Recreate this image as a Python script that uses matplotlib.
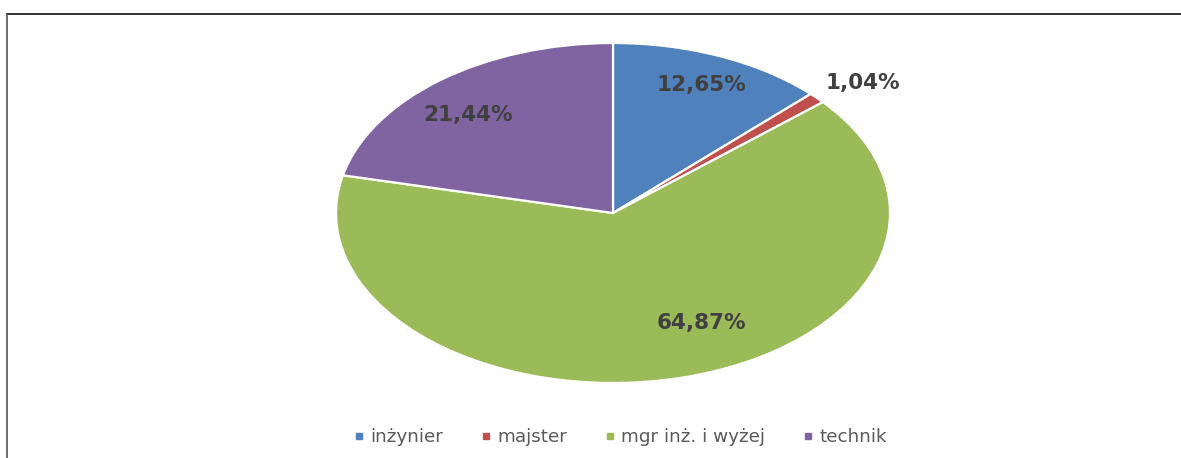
import matplotlib.pyplot as plt
from matplotlib.lines import Line2D

W, H = 1181, 458

categories = ["inżynier", "majster", "mgr inż. i wyżej", "technik"]
shares = [12.65, 1.04, 64.87, 21.44]
colors = ["#4F81BD", "#C0504D", "#9BBB59", "#8064A2"]

# label centres in pie data units (radius 1, axes stretched into an ellipse)
LABEL_POS = [(0.318, 0.753), (0.903, 0.765), (0.318, -0.647), (-0.523, 0.576)]

fig = plt.figure(figsize=(W / 100, H / 100), dpi=100)
fig.patch.set_facecolor("white")

# pie box in pixels: left 336, right 890, top 43, bottom 383
ax = fig.add_axes([336 / W, (H - 383) / H, 554 / W, 340 / H])
wedges, _ = ax.pie(
    shares,
    colors=colors,
    startangle=90,
    counterclock=False,
    radius=1.0,
    wedgeprops=dict(edgecolor="white", linewidth=1.6),
)
ax.set_aspect("auto")
ax.set_xlim(-1, 1)
ax.set_ylim(-1, 1)
ax.axis("off")

for v, (x, y) in zip(shares, LABEL_POS):
    ax.text(x, y, f"{v:.2f}%".replace(".", ","), ha="center", va="center",
            fontsize=15.5, fontweight="bold", color="#404040",
            family="DejaVu Sans")

handles = [Line2D([], [], marker="s", linestyle="none", markersize=5,
                  markerfacecolor=c, markeredgecolor=c) for c in colors]
fig.legend(handles, categories, loc="center", bbox_to_anchor=(621 / W, 1 - 437 / H),
           ncol=4, frameon=False, handlelength=0.5, handletextpad=0.35,
           columnspacing=2.1, prop=dict(family="DejaVu Sans", size=13.2),
           labelcolor="#595959")

# frame lines (top and left)
fig.add_artist(Line2D([7 / W, 1.0], [1 - 14 / H, 1 - 14 / H], color="#111111",
                      linewidth=1.2, transform=fig.transFigure))
fig.add_artist(Line2D([7 / W, 7 / W], [0.0, 1 - 14 / H], color="#555555",
                      linewidth=1.2, transform=fig.transFigure))

fig.savefig("out.png", dpi=100)
